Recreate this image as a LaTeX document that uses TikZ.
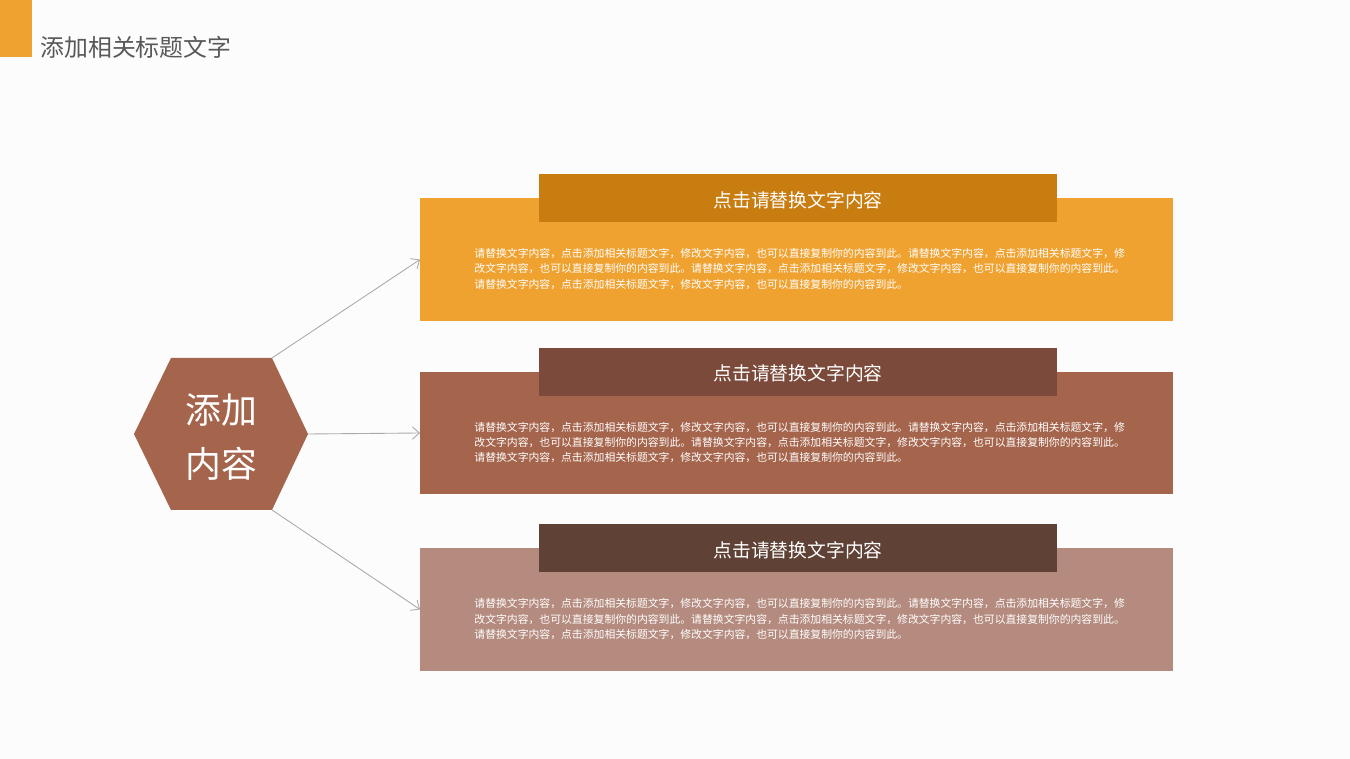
\documentclass[tikz,border=0pt]{standalone}
\usepackage{fontspec}
\usepackage{tikz}
\usetikzlibrary{positioning, arrows.meta, calc}
\newfontfamily\cjk{Noto Sans CJK SC}
\definecolor{bgcolor}{RGB}{252,252,252}
\definecolor{orangebox}{RGB}{240,162,49}
\definecolor{orangehead}{RGB}{201,125,16}
\definecolor{brownbox}{RGB}{165,100,76}
\definecolor{brownhead}{RGB}{123,74,59}
\definecolor{rosebox}{RGB}{180,139,126}
\definecolor{rosehead}{RGB}{95,65,54}
\definecolor{titlegray}{RGB}{89,89,89}
\definecolor{linkgray}{RGB}{170,170,170}
\newcommand{\fillertext}{请替换文字内容，点击添加相关标题文字，修改文字内容，也可以直接复制你的内容到此。请替换文字内容，点击添加相关标题文字，修\\
改文字内容，也可以直接复制你的内容到此。请替换文字内容，点击添加相关标题文字，修改文字内容，也可以直接复制你的内容到此。\\
请替换文字内容，点击添加相关标题文字，修改文字内容，也可以直接复制你的内容到此。}

\begin{document}
\begin{tikzpicture}[
    x=0.02cm, y=-0.02cm,
    contentbox/.style={rectangle, minimum width=15.06cm, minimum height=2.46cm, inner sep=0pt, outer sep=0pt},
    headbox/.style={rectangle, minimum width=10.36cm, minimum height=0.96cm, inner sep=0pt, text height=12pt, text depth=1.6pt, text=white, font=\cjk\fontsize{10.7}{12}\selectfont},
    bodytext/.style={anchor=north west, inner sep=0pt, align=left, text=white, font=\cjk\fontsize{6.17}{8.8}\selectfont},
    link/.style={draw=linkgray, line width=0.5pt, -{Straight Barb[length=4pt, width=7pt]}}
]
\fill[bgcolor] (0,0) rectangle (1350,759);
\useasboundingbox (0,0) rectangle (1350,759);

% title
\fill[orangebox] (0,0) rectangle (32,57);
\node[anchor=west, inner sep=0pt, text=titlegray, font=\cjk\fontsize{13.6}{16}\selectfont] (title) at (40,47) {添加相关标题文字};

% hexagon
\coordinate (hexW) at (134,434);
\coordinate (hexNW) at (171,358);
\coordinate (hexNE) at (272,358);
\coordinate (hexE) at (308,434);
\coordinate (hexSE) at (272,510);
\coordinate (hexSW) at (171,510);
\fill[brownbox] (hexW) -- (hexNW) -- (hexNE) -- (hexE) -- (hexSE) -- (hexSW) -- cycle;
\node[align=center, text=white, inner sep=0pt, font=\cjk\fontsize{20.4}{30.6}\selectfont] (hex) at (221,437) {添加\\内容};

% boxes
\node[contentbox, fill=orangebox] (box1) at (796.5,259.5) {};
\node[contentbox, fill=brownbox] (box2) at (796.5,433) {};
\node[contentbox, fill=rosebox] (box3) at (796.5,609.5) {};

\node[headbox, fill=orangehead] (head1) at ($(box1.north)+(1.5,0)$) {点击请替换文字内容};
\node[headbox, fill=brownhead] (head2) at ($(box2.north)+(1.5,0)$) {点击请替换文字内容};
\node[headbox, fill=rosehead] (head3) at ($(box3.north)+(1.5,0)$) {点击请替换文字内容};

\node[bodytext] (text1) at ($(box1.north west)+(54,50)$) {\fillertext};
\node[bodytext] (text2) at ($(box2.north west)+(54,50)$) {\fillertext};
\node[bodytext] (text3) at ($(box3.north west)+(54,50)$) {\fillertext};

% links
\draw[link] (hexNE) -- (box1.west);
\draw[link] (hexE) -- (box2.west);
\draw[link] (hexSE) -- (box3.west);

\end{tikzpicture}
\end{document}
